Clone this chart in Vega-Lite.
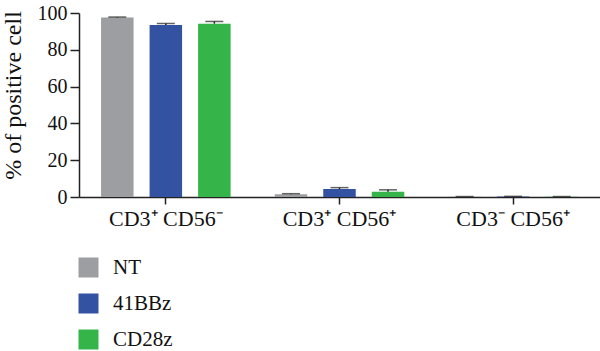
{
  "$schema": "https://vega.github.io/schema/vega-lite/v6.json",
  "autosize": "none",
  "padding": {"left": 79, "top": 13, "right": 0, "bottom": 154},
  "width": 521,
  "height": 184,
  "background": "white",
  "config": {
    "view": {"stroke": null},
    "font": "Liberation Serif",
    "axis": {"grid": false, "domainColor": "#222", "tickColor": "#222", "labelColor": "#111", "titleColor": "#111", "labelFont": "Liberation Serif", "titleFont": "Liberation Serif", "domainWidth": 1.5, "tickWidth": 1.5},
    "axisY": {"labelOverlap": false}
  },
  "data": {
    "values": [
      {"group": "CD3⁺ CD56⁻", "car": "NT", "mean": 97.5, "err": 0.3},
      {"group": "CD3⁺ CD56⁻", "car": "41BBz", "mean": 93.5, "err": 0.8},
      {"group": "CD3⁺ CD56⁻", "car": "CD28z", "mean": 94.2, "err": 1.2},
      {"group": "CD3⁺ CD56⁺", "car": "NT", "mean": 1.5, "err": 0.3},
      {"group": "CD3⁺ CD56⁺", "car": "41BBz", "mean": 4.3, "err": 0.8},
      {"group": "CD3⁺ CD56⁺", "car": "CD28z", "mean": 2.9, "err": 1.0},
      {"group": "CD3⁻ CD56⁺", "car": "NT", "mean": 0.2, "err": 0.05},
      {"group": "CD3⁻ CD56⁺", "car": "41BBz", "mean": 0.3, "err": 0.05},
      {"group": "CD3⁻ CD56⁺", "car": "CD28z", "mean": 0.2, "err": 0.05}
    ]
  },
  "transform": [{"calculate": "datum.mean + datum.err", "as": "upper"}],
  "encoding": {
    "x": {
      "field": "group", "type": "nominal", "sort": null,
      "scale": {"paddingInner": 0, "paddingOuter": 0},
      "axis": {"title": null, "labelAngle": 0, "labelFontSize": 22, "labelPadding": 4, "tickSize": 7}
    },
    "xOffset": {
      "field": "car", "type": "nominal", "sort": ["NT", "41BBz", "CD28z"],
      "scale": {"paddingInner": 0.33, "paddingOuter": 0.455}
    }
  },
  "layer": [
    {
      "mark": {"type": "bar"},
      "encoding": {
        "y": {
          "field": "mean", "type": "quantitative",
          "scale": {"domain": [0, 100], "nice": false},
          "axis": {"title": "% of positive cell", "titleFontSize": 24, "titleFontWeight": "normal", "titlePadding": 12, "titleY": 82, "labelFontSize": 20, "labelOverlap": false, "values": [0, 20, 40, 60, 80, 100], "tickSize": 9, "labelPadding": 3}
        },
        "color": {
          "field": "car", "type": "nominal", "sort": ["NT", "41BBz", "CD28z"],
          "scale": {"domain": ["NT", "41BBz", "CD28z"], "range": ["#9C9EA1", "#3352A2", "#35B44A"]},
          "legend": {
            "title": null, "orient": "none", "legendX": -1, "legendY": 244,
            "symbolType": "square", "symbolSize": 400, "symbolStrokeWidth": 0, "symbolOpacity": 1,
            "labelFontSize": 21, "labelFont": "Liberation Serif", "labelColor": "#111",
            "rowPadding": 14, "labelOffset": 14, "padding": 0
          }
        }
      }
    },
    {
      "mark": {"type": "rule", "color": "#222", "strokeWidth": 1.5},
      "encoding": {
        "y": {
          "field": "mean", "type": "quantitative",
          "scale": {"domain": [0, 100], "nice": false},
          "axis": {"title": "% of positive cell", "titleFontSize": 24, "titleFontWeight": "normal", "titlePadding": 12, "titleY": 82, "labelFontSize": 20, "labelOverlap": false, "values": [0, 20, 40, 60, 80, 100], "tickSize": 9, "labelPadding": 3}
        },
        "y2": {"field": "upper"}
      }
    },
    {
      "mark": {"type": "tick", "color": "#222", "thickness": 1.5, "size": 18},
      "encoding": {
        "y": {
          "field": "upper", "type": "quantitative",
          "scale": {"domain": [0, 100], "nice": false},
          "axis": {"title": "% of positive cell", "titleFontSize": 24, "titleFontWeight": "normal", "titlePadding": 12, "titleY": 82, "labelFontSize": 20, "labelOverlap": false, "values": [0, 20, 40, 60, 80, 100], "tickSize": 9, "labelPadding": 3}
        }
      }
    }
  ]
}
